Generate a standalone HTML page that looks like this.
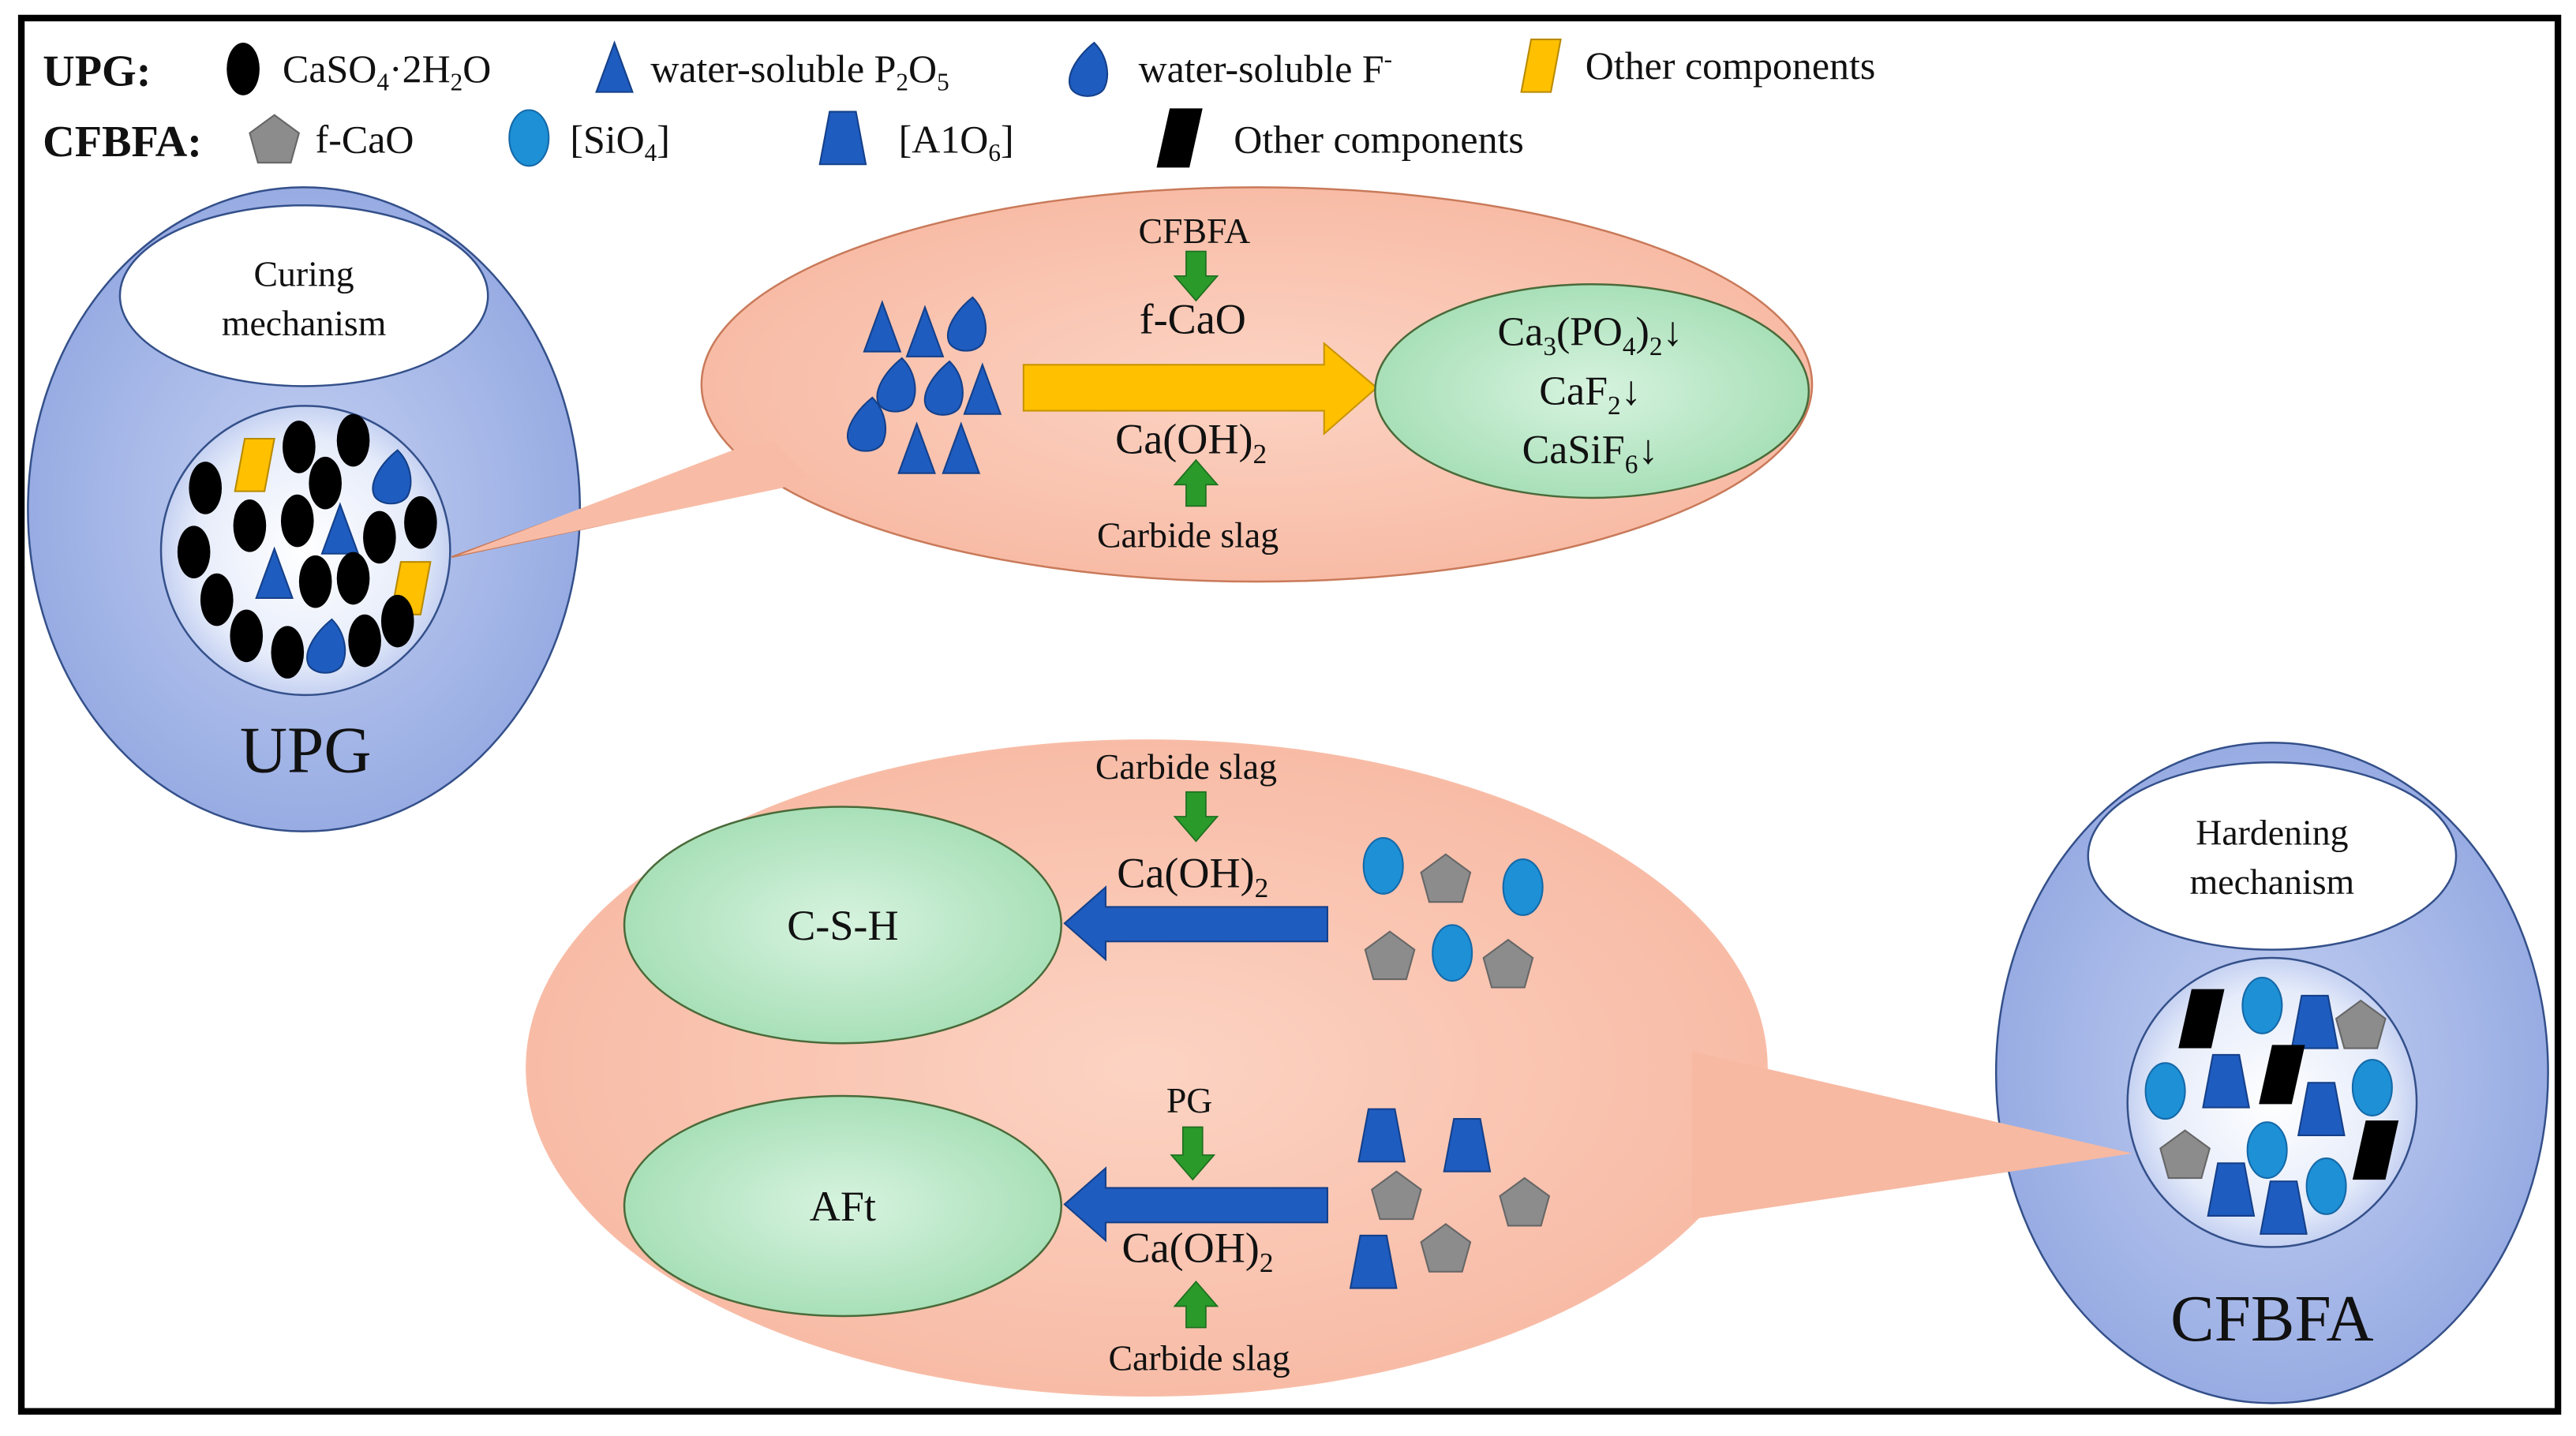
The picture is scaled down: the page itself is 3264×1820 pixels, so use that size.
<!DOCTYPE html>
<html><head><meta charset="utf-8"><style>
html,body{margin:0;padding:0;background:#fff}
svg{display:block}
svg text, svg tspan{font-family:"Liberation Serif","DejaVu Serif",serif;fill:#111}
</style></head><body>
<svg width="3264" height="1820" viewBox="0 0 1568 874" preserveAspectRatio="none" xmlns="http://www.w3.org/2000/svg" font-family="Liberation Serif, serif">
<defs>
<radialGradient id="blue" cx="50%" cy="50%" r="60%"><stop offset="0" stop-color="#c4d0f2"/><stop offset="1" stop-color="#8fa5e0"/></radialGradient>
<radialGradient id="inner" cx="50%" cy="50%" r="55%"><stop offset="0" stop-color="#ffffff"/><stop offset="0.7" stop-color="#e6ecfa"/><stop offset="1" stop-color="#b7c6ee"/></radialGradient>
<radialGradient id="sal" cx="50%" cy="50%" r="60%"><stop offset="0" stop-color="#fcd3c3"/><stop offset="1" stop-color="#f7b7a0"/></radialGradient>
<radialGradient id="grn" cx="50%" cy="50%" r="60%"><stop offset="0" stop-color="#d7f3df"/><stop offset="1" stop-color="#9fdcb0"/></radialGradient>
<g id="bk"><ellipse cx="0" cy="0" rx="10" ry="16" fill="#000"/></g>
<g id="tri"><polygon points="0,-16 11,14 -11,14" fill="#1f5cbf" stroke="#14408a" stroke-width="1"/></g>
<g id="drop"><path d="M4,-16 C12,-8 14,4 10,12 C6,18 -6,18 -10,12 C-14,4 -6,-8 4,-16Z" fill="#1f5cbf" stroke="#14408a" stroke-width="1"/></g>
<g id="ypar"><polygon points="-6,-16 12,-16 6,16 -12,16" fill="#ffc000" stroke="#b88a00" stroke-width="1"/></g>
<g id="pent"><polygon points="0,-15 15,-4 10,14 -10,14 -15,-4" fill="#8c8c8c" stroke="#666" stroke-width="1"/></g>
<g id="lb"><ellipse cx="0" cy="0" rx="12" ry="17" fill="#1e90d6" stroke="#1469a8" stroke-width="1"/></g>
<g id="trap"><polygon points="-8,-16 8,-16 14,16 -14,16" fill="#1f5cbf" stroke="#14408a" stroke-width="1"/></g>
<g id="kpar"><polygon points="-6,-18 14,-18 6,18 -14,18" fill="#000"/></g>
</defs>
<rect x="13" y="11" width="1544" height="848" fill="#fff" stroke="#000" stroke-width="4"/>

<!-- legend -->
<text x="26" y="52" font-size="27" font-weight="bold">UPG:</text>
<use href="#bk" x="148" y="42"/>
<text x="172" y="50" font-size="24">CaSO<tspan font-size="15" dy="5">4</tspan><tspan dy="-5">·2H</tspan><tspan font-size="15" dy="5">2</tspan><tspan dy="-5">O</tspan></text>
<use href="#tri" x="374" y="42"/>
<text x="396" y="50" font-size="24">water-soluble P<tspan font-size="15" dy="5">2</tspan><tspan dy="-5">O</tspan><tspan font-size="15" dy="5">5</tspan></text>
<use href="#drop" x="662" y="42"/>
<text x="693" y="50" font-size="24">water-soluble F<tspan font-size="15" dy="-9">-</tspan></text>
<use href="#ypar" x="938" y="40"/>
<text x="965" y="48" font-size="24">Other components</text>

<text x="26" y="95" font-size="27" font-weight="bold">CFBFA:</text>
<use href="#pent" x="167" y="85"/>
<text x="192" y="93" font-size="24">f-CaO</text>
<use href="#lb" x="322" y="84"/>
<text x="347" y="93" font-size="24">[SiO<tspan font-size="15" dy="5">4</tspan><tspan dy="-5">]</tspan></text>
<use href="#trap" x="513" y="84"/>
<text x="547" y="93" font-size="24">[A1O<tspan font-size="15" dy="5">6</tspan><tspan dy="-5">]</tspan></text>
<use href="#kpar" x="718" y="84"/>
<text x="751" y="93" font-size="24">Other components</text>

<!-- Left UPG -->
<ellipse cx="185" cy="310" rx="168" ry="196" fill="url(#blue)" stroke="#34508a" stroke-width="1.2"/>
<ellipse cx="185" cy="180" rx="112" ry="55" fill="#fff" stroke="#34508a" stroke-width="1.2"/>
<text x="185" y="174" font-size="22" text-anchor="middle">Curing</text>
<text x="185" y="204" font-size="22" text-anchor="middle">mechanism</text>
<circle cx="186" cy="335" r="88" fill="url(#inner)" stroke="#34508a" stroke-width="1.2"/>
<use href="#bk" x="182" y="272"/><use href="#bk" x="215" y="268"/>
<use href="#ypar" x="155" y="283"/><use href="#drop" x="238" y="290"/>
<use href="#bk" x="125" y="297"/><use href="#bk" x="198" y="294"/>
<use href="#bk" x="152" y="320"/><use href="#bk" x="181" y="317"/>
<use href="#tri" x="207" y="323"/><use href="#bk" x="231" y="327"/><use href="#bk" x="256" y="318"/>
<use href="#bk" x="118" y="336"/><use href="#tri" x="167" y="350"/>
<use href="#bk" x="192" y="354"/><use href="#bk" x="215" y="352"/>
<use href="#bk" x="132" y="365"/><use href="#ypar" x="250" y="358"/>
<use href="#bk" x="242" y="378"/>
<use href="#bk" x="150" y="387"/><use href="#bk" x="175" y="397"/><use href="#drop" x="198" y="393"/><use href="#bk" x="222" y="390"/>
<text x="186" y="470" font-size="40" text-anchor="middle">UPG</text>

<!-- Top callout -->
<polygon points="275,339 448,276 475,296" fill="#f8bca6" stroke="#c97a5a" stroke-width="1.2"/>
<ellipse cx="765" cy="234" rx="338" ry="120" fill="url(#sal)" stroke="#c97a5a" stroke-width="1.2"/>
<polygon points="279,338 446,274 470,268 492,290 476,297" fill="#f8bca6"/>
<use href="#tri" x="537" y="200"/><use href="#tri" x="563" y="203"/><use href="#drop" x="588" y="197"/>
<use href="#drop" x="545" y="234"/><use href="#drop" x="574" y="236"/><use href="#tri" x="598" y="238"/>
<use href="#drop" x="527" y="258"/><use href="#tri" x="558" y="274"/><use href="#tri" x="585" y="274"/>
<text x="727" y="148" font-size="22" text-anchor="middle">CFBFA</text>
<polygon points="722,153 734,153 734,168 741,168 728,183 715,168 722,168" fill="#2a9a2a" stroke="#1e6e1e" stroke-width="0.8"/>
<text x="726" y="203" font-size="26" text-anchor="middle">f-CaO</text>
<polygon points="623,222 806,222 806,209 838,236 806,264 806,250 623,250" fill="#ffc000" stroke="#c99400" stroke-width="1"/>
<text x="725" y="276" font-size="26" text-anchor="middle">Ca(OH)<tspan font-size="17" dy="6">2</tspan></text>
<polygon points="722,308 734,308 734,295 741,295 728,280 715,295 722,295" fill="#2a9a2a" stroke="#1e6e1e" stroke-width="0.8"/>
<text x="723" y="333" font-size="22" text-anchor="middle">Carbide slag</text>
<ellipse cx="969" cy="238" rx="132" ry="65" fill="url(#grn)" stroke="#4a6a3a" stroke-width="1.2"/>
<text x="968" y="210" font-size="25" text-anchor="middle">Ca<tspan font-size="16" dy="6">3</tspan><tspan dy="-6">(PO</tspan><tspan font-size="16" dy="6">4</tspan><tspan dy="-6">)</tspan><tspan font-size="16" dy="6">2</tspan><tspan dy="-6">↓</tspan></text>
<text x="968" y="246" font-size="25" text-anchor="middle">CaF<tspan font-size="16" dy="6">2</tspan><tspan dy="-6">↓</tspan></text>
<text x="968" y="282" font-size="25" text-anchor="middle">CaSiF<tspan font-size="16" dy="6">6</tspan><tspan dy="-6">↓</tspan></text>

<!-- Right CFBFA oval -->
<ellipse cx="1383" cy="653" rx="168" ry="201" fill="url(#blue)" stroke="#34508a" stroke-width="1.2"/>
<ellipse cx="1383" cy="521" rx="112" ry="57" fill="#fff" stroke="#34508a" stroke-width="1.2"/>
<text x="1383" y="514" font-size="22" text-anchor="middle">Hardening</text>
<text x="1383" y="544" font-size="22" text-anchor="middle">mechanism</text>

<!-- Bottom callout -->
<ellipse cx="698" cy="650" rx="378" ry="200" fill="url(#sal)"/>
<polygon points="1298,702 1030,640 1030,742" fill="#f7b9a2"/>
<ellipse cx="513" cy="563" rx="133" ry="72" fill="url(#grn)" stroke="#4a6a3a" stroke-width="1.2"/>
<text x="513" y="572" font-size="26" text-anchor="middle">C-S-H</text>
<ellipse cx="513" cy="734" rx="133" ry="67" fill="url(#grn)" stroke="#4a6a3a" stroke-width="1.2"/>
<text x="513" y="743" font-size="26" text-anchor="middle">AFt</text>
<text x="722" y="474" font-size="22" text-anchor="middle">Carbide slag</text>
<polygon points="722,482 734,482 734,497 741,497 728,512 715,497 722,497" fill="#2a9a2a" stroke="#1e6e1e" stroke-width="0.8"/>
<text x="726" y="540" font-size="26" text-anchor="middle">Ca(OH)<tspan font-size="17" dy="6">2</tspan></text>
<polygon points="808,552 673,552 673,540 648,562 673,584 673,573 808,573" fill="#1f5cbf" stroke="#14408a" stroke-width="1"/>
<use href="#lb" x="842" y="527"/><use href="#pent" x="880" y="535"/><use href="#lb" x="927" y="540"/>
<use href="#pent" x="846" y="582"/><use href="#lb" x="884" y="580"/><use href="#pent" x="918" y="587"/>
<text x="724" y="677" font-size="22" text-anchor="middle">PG</text>
<polygon points="720,686 732,686 732,703 739,703 726,718 713,703 720,703" fill="#2a9a2a" stroke="#1e6e1e" stroke-width="0.8"/>
<polygon points="808,723 673,723 673,711 648,733 673,755 673,744 808,744" fill="#1f5cbf" stroke="#14408a" stroke-width="1"/>
<text x="729" y="768" font-size="26" text-anchor="middle">Ca(OH)<tspan font-size="17" dy="6">2</tspan></text>
<polygon points="722,808 734,808 734,795 741,795 728,780 715,795 722,795" fill="#2a9a2a" stroke="#1e6e1e" stroke-width="0.8"/>
<text x="730" y="834" font-size="22" text-anchor="middle">Carbide slag</text>
<use href="#trap" x="841" y="691"/><use href="#trap" x="893" y="697"/>
<use href="#pent" x="850" y="728"/><use href="#pent" x="928" y="732"/>
<use href="#pent" x="880" y="760"/><use href="#trap" x="836" y="768"/>

<!-- Right inner -->
<ellipse cx="1383" cy="671" rx="88" ry="88" fill="url(#inner)" stroke="#34508a" stroke-width="1.2"/>
<use href="#kpar" x="1340" y="620"/><use href="#lb" x="1377" y="612"/><use href="#trap" x="1409" y="622"/><use href="#pent" x="1437" y="624"/>
<use href="#lb" x="1318" y="664"/><use href="#trap" x="1355" y="658"/><use href="#kpar" x="1389" y="654"/><use href="#lb" x="1444" y="662"/>
<use href="#trap" x="1413" y="675"/><use href="#pent" x="1330" y="703"/><use href="#lb" x="1380" y="700"/><use href="#kpar" x="1446" y="700"/>
<use href="#trap" x="1358" y="724"/><use href="#lb" x="1416" y="722"/><use href="#trap" x="1390" y="735"/>
<text x="1383" y="816" font-size="40" text-anchor="middle">CFBFA</text>
</svg>
</body></html>
